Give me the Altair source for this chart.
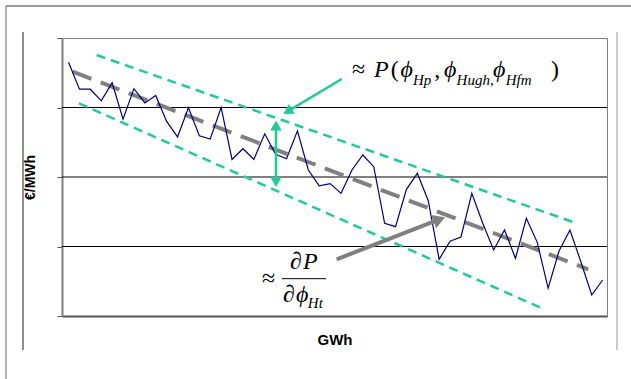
import altair as alt
import pandas as pd

# ---- data (unitless price index vs. GWh step) ----
x_idx = list(range(1, 51))
price = [3.650, 3.263, 3.263, 3.096, 3.355, 2.832, 3.271, 3.065, 3.173, 2.799,
         2.576, 2.996, 2.593, 2.547, 3.000, 2.252, 2.407, 2.252, 2.622, 2.328,
         2.263, 2.665, 2.101, 1.873, 1.904, 1.765, 2.101, 2.317, 2.148, 1.334,
         1.285, 1.823, 2.053, 1.659, 0.816, 1.075, 1.137, 1.765, 1.334, 0.950,
         1.237, 0.830, 1.406, 1.060, 0.399, 0.935, 1.237, 0.781, 0.302, 0.518]

trend_x = [1.38, 48.68]
trend_y = [3.515, 0.672]
upper_x = [3.58, 47.62]
upper_y = [3.755, 1.334]
lower_x = [1.96, 44.32]
lower_y = [3.060, 0.119]
grid_y = [1, 2, 3]

TEAL = "#1ECB9B"
GRAY = "#808080"
NAVY = "#000080"
SERIF = "Liberation Serif"
SANS = "Liberation Sans"

X = alt.X("x:Q", scale=alt.Scale(domain=[0.4, 50.4], nice=False, zero=False),
          axis=alt.Axis(title="GWh", labels=False, ticks=False, grid=False,
                        domainColor="#555555", domainWidth=2, titlePadding=16,
                        titleFont=SANS, titleFontSize=15, titleFontWeight="bold",
                        titleColor="black"))
Y = alt.Y("y:Q", scale=alt.Scale(domain=[0, 4], nice=False, zero=False),
          axis=alt.Axis(title="€/MWh", values=[0, 1, 2, 3, 4], labels=False,
                        ticks=True, tickSize=5, tickColor="#555555", grid=False,
                        domainColor=GRAY, domainWidth=2,
                        titleFont=SANS, titleFontSize=14, titleFontWeight="bold",
                        titleColor="black", titleX=-25, titleY=139,
                        titleAngle=-90, titleBaseline="bottom"))

df_line = pd.DataFrame({"x": x_idx, "y": price})
df_trend = pd.DataFrame({"x": trend_x, "y": trend_y})
df_up = pd.DataFrame({"x": upper_x, "y": upper_y})
df_lo = pd.DataFrame({"x": lower_x, "y": lower_y})
df_grid = pd.DataFrame({"y": grid_y})

grid = alt.Chart(df_grid).mark_rule(color="black", strokeWidth=1).encode(y=Y)
line = alt.Chart(df_line).mark_line(color=NAVY, strokeWidth=1.2).encode(x=X, y=Y)
trend = alt.Chart(df_trend).mark_line(color=GRAY, strokeWidth=4, strokeDash=[20, 10]).encode(x=X, y=Y)
upper = alt.Chart(df_up).mark_line(color=TEAL, strokeWidth=2.5, strokeDash=[9, 6]).encode(x=X, y=Y)
lower = alt.Chart(df_lo).mark_line(color=TEAL, strokeWidth=2.5, strokeDash=[9, 6]).encode(x=X, y=Y)

# ---- arrows (annotation positions in data units) ----
teal_arrow = pd.DataFrame({"x": [26.06, 21.1], "y": [3.41, 2.944]})
teal_head = pd.DataFrame({"x": [21.1], "y": [2.944], "a": [239]})
dbl = pd.DataFrame({"x": [20.03, 20.03], "y": [2.741, 1.928]})
dbl_head = pd.DataFrame({"x": [20.03, 20.03], "y": [2.741, 1.928], "a": [0, 180]})
gray_arrow = pd.DataFrame({"x": [25.6, 35.02], "y": [0.816, 1.389]})
gray_head = pd.DataFrame({"x": [35.02], "y": [1.389], "a": [69]})

a1 = alt.Chart(teal_arrow).mark_line(color=TEAL, strokeWidth=2.5).encode(x=X, y=Y)
a1h = alt.Chart(teal_head).mark_point(shape="triangle-up", filled=True, color=TEAL, size=130, opacity=1).encode(
    x=X, y=Y, angle=alt.Angle("a:Q", scale=None))
a2 = alt.Chart(dbl).mark_line(color=TEAL, strokeWidth=2.5).encode(x=X, y=Y)
a2h = alt.Chart(dbl_head).mark_point(shape="triangle-up", filled=True, color=TEAL, size=130, opacity=1).encode(
    x=X, y=Y, angle=alt.Angle("a:Q", scale=None))
a3 = alt.Chart(gray_arrow).mark_line(color=GRAY, strokeWidth=4).encode(x=X, y=Y)
a3h = alt.Chart(gray_head).mark_point(shape="triangle-up", filled=True, color=GRAY, size=200, opacity=1).encode(
    x=X, y=Y, angle=alt.Angle("a:Q", scale=None))

# ---- formula labels ----
txt_main_normal = pd.DataFrame({"x": [27.0, 30.55, 34.55, 45.26, 21.32, 20.67],
                                "y": [3.439, 3.439, 3.439, 3.439, 0.676, 0.201],
                                "t": ["≈", "(", ",", ")", "∂", "∂"]})
txt_main_italic = pd.DataFrame({"x": [29.02, 31.45, 35.45, 39.95, 22.51, 21.87],
                                "y": [3.439, 3.439, 3.439, 3.439, 0.676, 0.201],
                                "t": ["P", "ϕ", "ϕ", "ϕ", "P", "ϕ"]})
txt_sub = pd.DataFrame({"x": [32.6, 36.6, 41.1, 22.95],
                        "y": [3.324, 3.324, 3.324, 0.115],
                        "t": ["Hp", "Hugh,", "Hfm", "Ht"]})
txt_approx = pd.DataFrame({"x": [18.75], "y": [0.532], "t": ["≈"]})
frac = pd.DataFrame({"x": [20.58], "x2": [24.62], "y": [0.537]})

t1 = alt.Chart(txt_main_normal).mark_text(font=SERIF, fontSize=24, align="left", baseline="alphabetic",
                                          color="black").encode(x=X, y=Y, text="t:N")
t2 = alt.Chart(txt_main_italic).mark_text(font=SERIF, fontSize=24, fontStyle="italic", align="left",
                                          baseline="alphabetic", color="black").encode(x=X, y=Y, text="t:N")
t3 = alt.Chart(txt_sub).mark_text(font=SERIF, fontSize=15, fontStyle="italic", align="left",
                                  baseline="alphabetic", color="black").encode(x=X, y=Y, text="t:N")
t4 = alt.Chart(txt_approx).mark_text(font=SERIF, fontSize=24, align="left", baseline="middle",
                                     color="black").encode(x=X, y=Y, text="t:N")
fr = alt.Chart(frac).mark_rule(color="black", strokeWidth=1).encode(x=X, x2="x2:Q", y=Y)

# ---- outer frame decoration ----
one = pd.DataFrame({"d": [0]})
f_top = alt.Chart(one).mark_rule(color="#333333", strokeWidth=1).encode(
    x=alt.value(-56), x2=alt.value(580), y=alt.value(-32))
f_left = alt.Chart(one).mark_rule(color="#666666", strokeWidth=1).encode(
    x=alt.value(-56), y=alt.value(-32), y2=alt.value(350))
f_in_left = alt.Chart(one).mark_rule(color="#222222", strokeWidth=1).encode(
    x=alt.value(-39), y=alt.value(-6), y2=alt.value(312))
f_in_right = alt.Chart(one).mark_rule(color="#999999", strokeWidth=1).encode(
    x=alt.value(555), y=alt.value(-6), y2=alt.value(312))

chart = alt.layer(
    grid, upper, lower, trend, line, a1, a1h, a2, a2h, a3, a3h,
    t1, t2, t3, t4, fr, f_top, f_left, f_in_left, f_in_right
).properties(
    width=545, height=278,
    autosize=alt.AutoSizeParams(type="none"),
    padding={"left": 62, "top": 38, "right": 24, "bottom": 63},
    background="white",
).configure_view(stroke=GRAY, strokeWidth=1)

chart.save("out.html", embed_options={"renderer": "svg", "actions": False})
